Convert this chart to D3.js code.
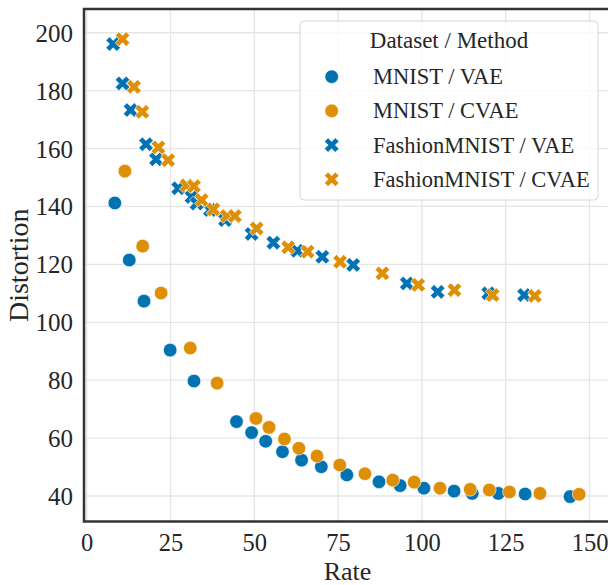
<!DOCTYPE html>
<html>
<head>
<meta charset="utf-8">
<script src="https://cdn.jsdelivr.net/npm/d3@7"></script>
<style>
  body { margin: 0; background: #fff; }
  svg { display: block; font-family: "Liberation Serif", "DejaVu Serif", serif; }
</style>
</head>
<body>
<div id="app"></div>
<script>
const width = 608
const height = 585
const margin = { top: 9, right: -7, bottom: 63.5, left: 84 }

// Rate / Distortion pairs
const mnistVaeRate = [8.4, 12.7, 17.1, 24.9, 32.0, 44.7, 49.2, 53.4, 58.4, 64.1, 70.0, 77.6, 87.2, 93.5, 100.6, 109.6, 115.0, 122.8, 130.8, 144.2]
const mnistVaeDist = [141.2, 121.5, 107.3, 90.4, 79.7, 65.7, 61.9, 58.9, 55.3, 52.4, 50.1, 47.3, 44.9, 43.6, 42.7, 41.7, 40.9, 40.9, 40.7, 39.8]

const mnistCvaeRate = [11.4, 16.7, 22.2, 30.9, 38.9, 50.5, 54.4, 59.0, 63.3, 68.7, 75.5, 83.0, 91.3, 97.7, 105.4, 114.4, 120.1, 126.1, 135.2, 146.9]
const mnistCvaeDist = [152.2, 126.3, 110.1, 91.1, 79.0, 66.8, 63.7, 59.7, 56.5, 53.8, 50.7, 47.7, 45.5, 44.8, 42.7, 42.3, 42.1, 41.4, 40.9, 40.6]

const fashionVaeRate = [7.9, 10.7, 13.1, 17.7, 20.7, 27.3, 31.3, 32.8, 36.8, 41.3, 49.2, 55.7, 62.8, 70.3, 79.5, 95.5, 104.7, 119.8, 130.5]
const fashionVaeDist = [196.1, 182.5, 173.3, 161.5, 156.3, 146.3, 143.3, 141.0, 138.8, 135.3, 130.5, 127.5, 124.7, 122.6, 119.8, 113.4, 110.5, 110.0, 109.4]

const fashionCvaeRate = [10.7, 14.1, 16.6, 21.4, 24.3, 29.8, 32.0, 34.3, 37.8, 41.8, 44.2, 50.7, 60.1, 65.9, 75.6, 88.2, 98.9, 109.7, 121.1, 133.7]
const fashionCvaeDist = [197.8, 181.3, 172.7, 160.4, 156.0, 147.3, 147.0, 142.2, 139.0, 136.7, 136.7, 132.4, 125.9, 124.4, 120.9, 116.9, 112.9, 111.1, 109.4, 109.1]

const xTicks = [0, 25, 50, 75, 100, 125, 150]
const yTicks = [40, 60, 80, 100, 120, 140, 160, 180, 200]
const seriesNames = ["MNIST / VAE", "MNIST / CVAE", "FashionMNIST / VAE", "FashionMNIST / CVAE"]

const blue = "#0173b2"
const orange = "#de8f05"

const series = [
    { name: seriesNames[0], rate: mnistVaeRate, dist: mnistVaeDist, color: blue, shape: "circle" },
    { name: seriesNames[1], rate: mnistCvaeRate, dist: mnistCvaeDist, color: orange, shape: "circle" },
    { name: seriesNames[2], rate: fashionVaeRate, dist: fashionVaeDist, color: blue, shape: "x" },
    { name: seriesNames[3], rate: fashionCvaeRate, dist: fashionCvaeDist, color: orange, shape: "x" },
]

const x = d3.scaleLinear()
    .domain([-0.8, 157.6])
    .range([margin.left, width - margin.right])
const y = d3.scaleLinear()
    .domain([31.2, 208.2])
    .range([height - margin.bottom, margin.top])

const circleSym = d3.symbol(d3.symbolCircle, 145)
const crossSym = d3.symbol(d3.symbolCross, 132)
const markerPath = s => s === "circle" ? circleSym() : crossSym()
const markerRot = s => s === "circle" ? "" : " rotate(45)"

const svg = d3.select("#app").append("svg")
    .attr("width", width)
    .attr("height", height)

const plotW = width - margin.right - margin.left
const plotH = height - margin.bottom - margin.top

svg.append("defs").append("clipPath").attr("id", "clip")
    .append("rect")
    .attr("x", margin.left).attr("y", margin.top)
    .attr("width", plotW).attr("height", plotH)

// grid
const grid = svg.append("g").attr("stroke", "#e5e5e5").attr("stroke-width", 1.3)
grid.selectAll(".gx").data(xTicks).join("line")
    .attr("x1", d => x(d)).attr("x2", d => x(d))
    .attr("y1", margin.top).attr("y2", height - margin.bottom)
grid.selectAll(".gy").data(yTicks).join("line")
    .attr("x1", margin.left).attr("x2", width - margin.right)
    .attr("y1", d => y(d)).attr("y2", d => y(d))

// axes (labels only, no tick marks)
const xAxis = g => g
    .attr("transform", `translate(0, ${height - margin.bottom})`)
    .call(d3.axisBottom(x).tickValues(xTicks).tickSize(0).tickPadding(0))
    .call(g => g.select(".domain").remove())
    .call(g => g.selectAll("text")
        .attr("font-family", "Liberation Serif")
        .attr("font-size", 24.5)
        .attr("fill", "#262626")
        .attr("dy", null)
        .attr("y", 29.5))

const yAxis = g => g
    .attr("transform", `translate(${margin.left}, 0)`)
    .call(d3.axisLeft(y).tickValues(yTicks).tickSize(0).tickPadding(11))
    .call(g => g.select(".domain").remove())
    .call(g => g.selectAll("text")
        .attr("font-family", "Liberation Serif")
        .attr("font-size", 25)
        .attr("fill", "#262626")
        .attr("dy", "0.34em"))

svg.append("g").call(xAxis)
svg.append("g").call(yAxis)

// points
const pts = svg.append("g").attr("clip-path", "url(#clip)")
series.forEach(s => {
    pts.append("g").selectAll("path")
        .data(s.rate.map((r, i) => [r, s.dist[i]]))
        .join("path")
        .attr("d", markerPath(s.shape))
        .attr("transform", d => `translate(${x(d[0])},${y(d[1])})${markerRot(s.shape)}`)
        .attr("fill", s.color)
        .attr("stroke", "#fff")
        .attr("stroke-width", 0.6)
})

// spines
svg.append("rect")
    .attr("x", margin.left).attr("y", margin.top)
    .attr("width", plotW).attr("height", plotH)
    .attr("fill", "none")
    .attr("stroke", "#333")
    .attr("stroke-width", 2.5)

// axis titles
svg.append("text")
    .attr("x", (margin.left + 611) / 2)
    .attr("y", 580)
    .attr("text-anchor", "middle")
    .attr("font-size", 26)
    .attr("fill", "#262626")
    .text("Rate")

svg.append("text")
    .attr("transform", `translate(28, ${(margin.top + height - margin.bottom) / 2}) rotate(-90)`)
    .attr("text-anchor", "middle")
    .attr("font-size", 28)
    .attr("fill", "#262626")
    .text("Distortion")

// legend
const legend = svg.append("g").attr("transform", "translate(300, 21)")
legend.append("rect")
    .attr("width", 298).attr("height", 179)
    .attr("rx", 4)
    .attr("fill", "#fff").attr("fill-opacity", 0.8)
    .attr("stroke", "#d6d6d6").attr("stroke-width", 1)
legend.append("text")
    .attr("x", 149).attr("y", 27)
    .attr("text-anchor", "middle")
    .attr("font-size", 23)
    .attr("fill", "#262626")
    .text("Dataset / Method")
const items = legend.selectAll(".item").data(series).join("g")
    .attr("transform", (d, i) => `translate(0, ${55.7 + i * 34.2})`)
items.append("path")
    .attr("d", d => markerPath(d.shape))
    .attr("transform", d => `translate(31.7, 0)${markerRot(d.shape)}`)
    .attr("fill", d => d.color)
    .attr("stroke", "#fff")
    .attr("stroke-width", 0.6)
items.append("text")
    .attr("x", 73).attr("y", 7.5)
    .attr("font-size", 22.5)
    .attr("fill", "#262626")
    .text(d => d.name)
</script>
</body>
</html>
